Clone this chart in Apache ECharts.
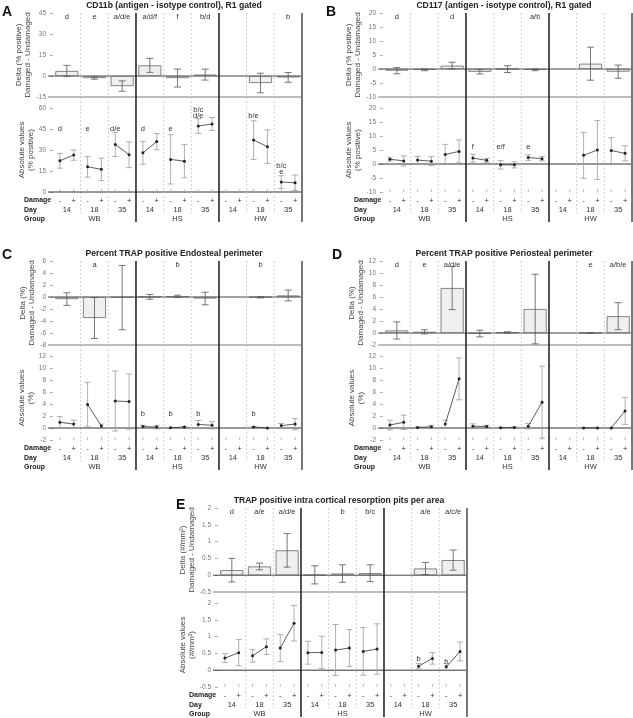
<!DOCTYPE html>
<html><head><meta charset="utf-8">
<script src="https://cdn.jsdelivr.net/npm/echarts@6/dist/echarts.min.js"></script>
<style>html,body{margin:0;padding:0;background:#fff}#c{width:633px;height:718px}</style>
</head><body><div id="c"></div>
<script>
// ---------- categories ----------
const groups = ['WB', 'HS', 'HW'];
const days = ['14', '18', '35'];
const damageSigns = ['-', '+'];

// ---------- Panel A : CD11b ----------
const aDeltaMean = [3.6, -1.5, -7.2, 7.6, -1.5, 1.0, null, -5.0, -1.0];
const aDeltaSD   = [4.0, 0.8, 3.7, 5.0, 6.4, 3.9, null, 7.0, 3.5];
const aAbsMinus   = [22.3, 18.0, 34.0, 28.0, 23.3, 47.1, null, 37.1, 7.1];
const aAbsMinusSD = [5.3, 7.4, 8.6, 8.2, 17.6, 5.2, null, 13.8, 4.5];
const aAbsPlus    = [26.4, 16.2, 26.6, 36.0, 22.0, 48.6, null, 32.4, 6.6];
const aAbsPlusSD  = [3.7, 8.0, 9.2, 5.8, 11.8, 4.6, null, 12.0, 5.5];
const aDeltaLetters = ['d', 'e', 'a/d/e', 'a/d/f', 'f', 'b/d', '', '', 'b'];
const aAbsLetters   = ['d', 'e', 'd/e', 'd', 'e', 'b/c\nd/e', '', 'b/e', 'b/c\ne'];
const aAbsLetterY   = [45, 45, 45, 45, 45, 56.4, null, 54.3, 16.8];

// ---------- Panel B : CD117 ----------
const bDeltaMean = [-0.6, -0.3, 1.2, -1.0, -0.05, -0.3, null, 1.9, -0.95];
const bDeltaSD   = [1.1, 0.3, 1.2, 0.8, 1.2, 0.3, null, 5.9, 2.35];
const bAbsMinus   = [1.7, 1.4, 3.4, 2.1, -0.3, 2.3, null, 3.1, 4.8];
const bAbsMinusSD = [0.7, 1.3, 3.6, 1.4, 1.5, 1.0, null, 8.2, 4.6];
const bAbsPlus    = [1.1, 1.0, 4.5, 1.3, -0.3, 1.9, null, 5.0, 3.8];
const bAbsPlusSD  = [1.8, 1.6, 4.1, 0.7, 1.1, 0.8, null, 10.5, 2.7];
const bDeltaLetters = ['d', '', 'd', '', '', 'a/b', '', '', ''];
const bAbsLetters   = ['', '', '', 'f', 'e/f', 'e', '', '', ''];
const bAbsLetterY   = [null, null, null, 6.2, 6.2, 6.2, null, null, null];

// ---------- Panel C : Endosteal ----------
const cDeltaMean = [-0.35, -3.5, -0.1, 0.03, 0.1, -0.25, null, -0.05, 0.25];
const cDeltaSD   = [1.05, 3.4, 5.35, 0.4, 0.2, 1.05, null, 0.1, 0.9];
const cAbsMinus   = [0.95, 3.9, 4.5, 0.25, 0.05, 0.6, null, 0.15, 0.4];
const cAbsMinusSD = [0.95, 3.7, 5.0, 0.2, 0.05, 0.65, null, 0.1, 0.35];
const cAbsPlus    = [0.65, 0.35, 4.4, 0.15, 0.15, 0.45, null, 0.02, 0.65];
const cAbsPlusSD  = [0.65, 0.3, 4.6, 0.3, 0.1, 0.6, null, 0.02, 0.95];
const cDeltaLetters = ['', 'a', '', '', 'b', '', '', 'b', ''];
const cAbsLetters   = ['', '', '', 'b', 'b', 'b', '', 'b', ''];
const cAbsLetterY   = [null, null, null, 2.4, 2.4, 2.4, null, 2.4, null];

// ---------- Panel D : Periosteal ----------
const dDeltaMean = [0.42, 0.2, 7.5, -0.1, 0.1, 4.0, null, 0.02, 2.8];
const dDeltaSD   = [1.43, 0.35, 3.6, 0.55, 0.1, 5.8, null, 0.02, 2.25];
const dAbsMinus   = [0.5, 0.1, 0.65, 0.3, 0.05, 0.3, null, 0.02, 0.02];
const dAbsMinusSD = [0.8, 0.05, 0.65, 0.4, 0.05, 0.45, null, 0.0, 0.0];
const dAbsPlus    = [0.95, 0.2, 8.2, 0.25, 0.1, 4.3, null, 0.02, 2.85];
const dAbsPlusSD  = [1.2, 0.25, 3.5, 0.2, 0.1, 6.0, null, 0.0, 2.25];
const dDeltaLetters = ['d', 'e', 'a/d/e', '', '', '', '', 'e', 'a/b/e'];
const dAbsLetters   = ['', '', '', '', '', '', '', '', ''];
const dAbsLetterY   = [null, null, null, null, null, null, null, null, null];

// ---------- Panel E : intra cortical pits ----------
const eDeltaMean = [0.15, 0.26, 0.74, 0.01, 0.05, 0.06, null, 0.2, 0.45];
const eDeltaSD   = [0.35, 0.1, 0.5, 0.27, 0.26, 0.25, null, 0.18, 0.3];
const eAbsMinus   = [0.36, 0.43, 0.66, 0.52, 0.6, 0.56, null, 0.12, 0.1];
const eAbsMinusSD = [0.13, 0.19, 0.4, 0.34, 0.76, 0.71, null, 0.08, 0.1];
const eAbsPlus    = [0.52, 0.7, 1.4, 0.53, 0.66, 0.63, null, 0.35, 0.56];
const eAbsPlusSD  = [0.39, 0.23, 0.53, 0.48, 0.55, 0.75, null, 0.17, 0.28];
const eDeltaLetters = ['d', 'a/e', 'a/d/e', '', 'b', 'b/c', '', 'a/e', 'a/c/e'];
const eAbsLetters   = ['', '', '', '', '', '', '', 'b', 'b'];
const eAbsLetterY   = [null, null, null, null, null, null, null, 0.33, 0.24];

// ---------- layout ----------
const FONT = '"Liberation Sans", Arial, sans-serif';
const panels = [
  {label:'A', ox:0, oy:0, lx:8, ly:12, title:'CD11b (antigen - isotype control), R1 gated',
   dName:'Delta (% positive)\nDamaged - Undamaged', aName:'Absolute values\n(% positive)',
   dMin:-15, dMax:45, dInt:15, aMin:0, aMax:60, aInt:15,
   dm:aDeltaMean, ds:aDeltaSD, mm:aAbsMinus, ms:aAbsMinusSD, pm:aAbsPlus, ps:aAbsPlusSD,
   dl:aDeltaLetters, al:aAbsLetters, aly:aAbsLetterY},
  {label:'B', ox:330, oy:0, lx:332, ly:12, title:'CD117 (antigen - isotype control), R1 gated',
   dName:'Delta (% positive)\nDamaged - Undamaged', aName:'Absolute values\n(% positive)',
   dMin:-10, dMax:20, dInt:5, aMin:-10, aMax:20, aInt:5,
   dm:bDeltaMean, ds:bDeltaSD, mm:bAbsMinus, ms:bAbsMinusSD, pm:bAbsPlus, ps:bAbsPlusSD,
   dl:bDeltaLetters, al:bAbsLetters, aly:bAbsLetterY},
  {label:'C', ox:0, oy:248, lx:8, ly:255, title:'Percent TRAP positive Endosteal perimeter',
   dName:'Delta (%)\nDamaged - Undamaged', aName:'Absolute values\n(%)',
   dMin:-8, dMax:6, dInt:2, aMin:-2, aMax:12, aInt:2,
   dm:cDeltaMean, ds:cDeltaSD, mm:cAbsMinus, ms:cAbsMinusSD, pm:cAbsPlus, ps:cAbsPlusSD,
   dl:cDeltaLetters, al:cAbsLetters, aly:cAbsLetterY},
  {label:'D', ox:330, oy:248, lx:338, ly:255, title:'Percent TRAP positive Periosteal perimeter',
   dName:'Delta (%)\nDamaged - Undamaged', aName:'Absolute values\n(%)',
   dMin:-2, dMax:12, dInt:2, aMin:-2, aMax:12, aInt:2,
   dm:dDeltaMean, ds:dDeltaSD, mm:dAbsMinus, ms:dAbsMinusSD, pm:dAbsPlus, ps:dAbsPlusSD,
   dl:dDeltaLetters, al:dAbsLetters, aly:dAbsLetterY},
  {label:'E', ox:165, oy:495, lx:182, ly:505, title:'TRAP positive intra cortical resorption pits per area',
   dName:'Delta (#/mm²)\nDamaged - Undamaged', aName:'Absolute values\n(#/mm²)',
   dMin:-0.5, dMax:2, dInt:0.5, aMin:-0.5, aMax:2, aInt:0.5,
   dm:eDeltaMean, ds:eDeltaSD, mm:eAbsMinus, ms:eAbsMinusSD, pm:eAbsPlus, ps:eAbsPlusSD,
   dl:eDeltaLetters, al:eAbsLetters, aly:eAbsLetterY}
];

const GAP = 11;
function ln(x1, y1, x2, y2, stroke, w, dash) {
  return {type:'line', silent:true, shape:{x1, y1, x2, y2},
    style:{stroke, lineWidth:w, lineDash:dash || null}};
}
function txt(x, y, text, size, o) {
  o = o || {};
  const al = o.align || 'center', va = o.va || 'middle';
  return {type:'text', silent:true, x, y, style:{text, fontSize:size, fontFamily:FONT,
    fontWeight:o.weight || 'normal', fill:o.fill || '#333', align:al, verticalAlign:va,
    textAlign:al, textVerticalAlign:va, lineHeight:o.lh || size + 1}};
}
function vline(x, y1, y2, b) {
  if (b === 9) return ln(x, y1, x, y2, '#777', 2);
  if (b % 3 === 0) return ln(x, y1, x, y2, '#1a1a1a', 1.5);
  return ln(x, y1, x, y2, '#cfcfcf', 1, [2, 2]);
}

const grids = [], xAxes = [], yAxes = [], series = [], graphics = [];
const colIdx = [0, 1, 2, 3, 4, 5, 6, 7, 8];

panels.forEach((p, k) => {
  const gd = 2 * k, ga = 2 * k + 1;
  grids.push({left:p.ox + 48, top:p.oy + 13, width:254, height:84});
  grids.push({left:p.ox + 48, top:p.oy + 108, width:254, height:84});
  [gd, ga].forEach(g => xAxes.push({gridIndex:g, type:'value', min:-0.18, max:9, show:false}));
  const yBase = (g, min, max, interval, name) => ({
    gridIndex:g, type:'value', min, max, interval,
    axisLine:{show:false}, splitLine:{show:false},
    axisTick:{show:true, length:3, lineStyle:{color:'#999', width:0.8}},
    axisLabel:{fontSize:6.5, color:'#777', margin:2, fontFamily:FONT},
    name, nameLocation:'middle', nameRotate:90, nameGap:10,
    nameTextStyle:{fontSize:8, color:'#444', lineHeight:9, fontFamily:FONT}
  });
  yAxes.push(yBase(gd, p.dMin, p.dMax, p.dInt, p.dName));
  yAxes.push(yBase(ga, p.aMin, p.aMax, p.aInt, p.aName));

  // delta frame: boundaries, zero line, separator, letters
  series.push({type:'custom', xAxisIndex:gd, yAxisIndex:gd, z:1, silent:true,
    data:colIdx.map(i => [i, 0]),
    renderItem:(params, api) => {
      const i = api.value(0), cs = params.coordSys;
      const top = cs.y, bottom = cs.y + cs.height;
      const ch = [];
      const xb = api.coord([i + 1, 0])[0];
      ch.push(vline(xb, top, bottom + GAP, i + 1));
      if (i === 0) {
        const y0 = api.coord([0, 0])[1];
        ch.push(ln(cs.x, bottom, cs.x + cs.width, bottom, '#bdbdbd', 2));
        ch.push(ln(cs.x, y0, cs.x + cs.width, y0, '#444', 1));
      }
      if (p.dl[i]) ch.push(txt(api.coord([i + 0.5, 0])[0], top + 4, p.dl[i], 7.5));
      return {type:'group', children:ch};
    }});

  // delta bars
  series.push({type:'bar', xAxisIndex:gd, yAxisIndex:gd, z:2, silent:true, barWidth:23,
    data:colIdx.filter(i => p.dm[i] !== null).map(i => [i + 0.5, p.dm[i]]),
    itemStyle:{color:'#efefef', borderColor:'#666', borderWidth:0.8}});

  // delta error bars
  series.push({type:'custom', xAxisIndex:gd, yAxisIndex:gd, z:4, silent:true,
    data:colIdx.filter(i => p.dm[i] !== null).map(i => [i + 0.5, p.dm[i], p.ds[i]]),
    renderItem:(params, api) => {
      const x = api.value(0), m = api.value(1), s = api.value(2);
      const hi = api.coord([x, m + s]), lo = api.coord([x, m - s]), px = hi[0], c = 3.5;
      return {type:'group', children:[
        ln(px, hi[1], px, lo[1], '#555', 0.8),
        ln(px - c, hi[1], px + c, hi[1], '#555', 0.8),
        ln(px - c, lo[1], px + c, lo[1], '#555', 0.8)]};
    }});

  // absolute frame: boundaries, ticks, zero line, row labels, letters
  series.push({type:'custom', xAxisIndex:ga, yAxisIndex:ga, z:1, silent:true,
    data:colIdx.map(i => [i, 0]),
    renderItem:(params, api) => {
      const i = api.value(0), cs = params.coordSys;
      const top = cs.y, bottom = cs.y + cs.height;
      const ch = [];
      const b = i + 1, xb = api.coord([b, 0])[0];
      ch.push(vline(xb, top, bottom + (b % 3 === 0 ? 30 : 21), b));
      const xm = api.coord([i + 0.25, 0])[0], xp = api.coord([i + 0.75, 0])[0];
      const xc = api.coord([i + 0.5, 0])[0];
      ch.push(ln(xm, bottom - 3, xm, bottom, '#aaa', 0.8));
      ch.push(ln(xp, bottom - 3, xp, bottom, '#aaa', 0.8));
      ch.push(txt(xm, bottom + 8.5, damageSigns[0], 7.5));
      ch.push(txt(xp, bottom + 8.5, damageSigns[1], 7.5));
      ch.push(txt(xc, bottom + 18, days[i % 3], 7.5));
      if (i % 3 === 1) ch.push(txt(xc, bottom + 27, groups[(i - 1) / 3], 7.5));
      if (i === 0) {
        const y0 = api.coord([0, 0])[1];
        ch.push(ln(cs.x, y0, cs.x + cs.width, y0, '#333', 1));
        const lx = cs.x - 24;
        ch.push(txt(lx, bottom + 8.5, 'Damage', 7, {align:'left', weight:'bold', fill:'#222'}));
        ch.push(txt(lx, bottom + 18, 'Day', 7, {align:'left', weight:'bold', fill:'#222'}));
        ch.push(txt(lx, bottom + 27, 'Group', 7, {align:'left', weight:'bold', fill:'#222'}));
      }
      if (p.al[i]) {
        const ly = api.coord([0, p.aly[i]])[1];
        ch.push(txt(xm, ly, p.al[i], 7.5, {lh:6}));
      }
      return {type:'group', children:ch};
    }});

  // absolute values: error bars, connecting line, points
  series.push({type:'custom', xAxisIndex:ga, yAxisIndex:ga, z:4, silent:true,
    data:colIdx.filter(i => p.mm[i] !== null).map(i => [i, p.mm[i], p.ms[i], p.pm[i], p.ps[i]]),
    renderItem:(params, api) => {
      const i = api.value(0);
      const pts = [[i + 0.25, api.value(1), api.value(2)], [i + 0.75, api.value(3), api.value(4)]];
      const ch = [], c = 3;
      const cc = pts.map(q => api.coord([q[0], q[1]]));
      pts.forEach(q => {
        if (q[2] > 0) {
          const hi = api.coord([q[0], q[1] + q[2]]), lo = api.coord([q[0], q[1] - q[2]]);
          ch.push(ln(hi[0], hi[1], hi[0], lo[1], '#9a9a9a', 0.8));
          ch.push(ln(hi[0] - c, hi[1], hi[0] + c, hi[1], '#9a9a9a', 0.8));
          ch.push(ln(hi[0] - c, lo[1], hi[0] + c, lo[1], '#9a9a9a', 0.8));
        }
      });
      ch.push(ln(cc[0][0], cc[0][1], cc[1][0], cc[1][1], '#333', 0.8));
      cc.forEach(q => ch.push({type:'circle', silent:true, shape:{cx:q[0], cy:q[1], r:1.5}, style:{fill:'#222'}}));
      return {type:'group', children:ch};
    }});

  graphics.push({type:'text', left:p.lx - 6, top:p.ly - 7,
    style:{text:p.label, fontSize:14, fontWeight:'bold', fontFamily:FONT, fill:'#111'}});
  graphics.push({type:'text', x:p.ox + 174, y:p.oy + 6,
    style:{text:p.title, fontSize:8.6, fontWeight:'bold', fontFamily:FONT, fill:'#222',
      align:'center', verticalAlign:'middle', textAlign:'center', textVerticalAlign:'middle'}});
});

const chart = echarts.init(document.getElementById('c'), null, {renderer:'canvas'});
chart.setOption({
  animation:false,
  backgroundColor:'#fff',
  grid:grids, xAxis:xAxes, yAxis:yAxes, series, graphic:graphics
});
</script>
</body></html>
